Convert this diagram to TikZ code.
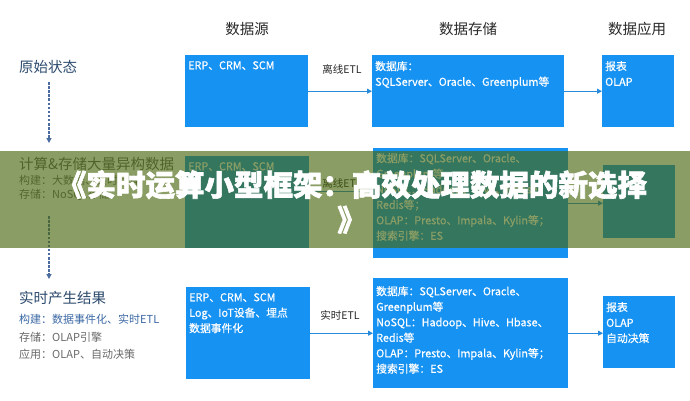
\documentclass[tikz,border=0pt]{standalone}
\usepackage{fontspec}
\setmainfont{Noto Sans CJK SC}
\newfontfamily\cjk{Noto Sans CJK SC}
\newfontfamily\cjkbox[FakeBold=0.6]{Noto Sans CJK SC}
\newfontfamily\cjktitle[BoldFeatures={FakeBold=2}]{Noto Sans CJK SC}
\usetikzlibrary{arrows.meta,calc}
\definecolor{boxblue}{RGB}{22,146,242}
\definecolor{arrblue}{RGB}{40,138,218}
\definecolor{dashblue}{RGB}{75,108,160}
\definecolor{headgrey}{RGB}{40,40,40}
\definecolor{stategrey}{RGB}{45,75,110}
\definecolor{subgrey}{RGB}{105,105,105}
\definecolor{subblue}{RGB}{60,105,165}
\definecolor{bandcol}{RGB}{72,103,13}
\tikzset{
  bx/.style={fill=boxblue, draw=none, inner sep=0pt, anchor=north west},
  bxtext/.style={anchor=north west, inner sep=0pt, text=white, align=left,
    font=\cjkbox\fontsize{10.8}{15.5}\selectfont},
  head/.style={inner sep=0pt, text=headgrey, font=\cjk\fontsize{14.5}{17}\selectfont},
  state/.style={anchor=west, inner sep=0pt, text=stategrey, font=\cjk\fontsize{14.5}{17}\selectfont},
  subtext/.style={anchor=west, inner sep=0pt, text=subgrey, font=\cjk\fontsize{11}{13}\selectfont},
  etl/.style={inner sep=0pt, text=headgrey, font=\cjk\fontsize{10.5}{13}\selectfont},
  arr/.style={draw=arrblue, line width=1.1pt, -{Triangle[length=5pt,width=5pt]}},
  dsh/.style={draw=dashblue, line width=1.1pt, dash pattern=on 2.5pt off 1.6pt,
    -{Triangle[length=5pt,width=5pt]}},
}
\begin{document}
\begin{tikzpicture}[x=1pt,y=-1pt]
\useasboundingbox[fill=white] (0,0) rectangle (690,400);

% headers
\node[head] (h1) at (247,29) {数据源};
\node[head] (h2) at (468,29) {数据存储};
\node[head] (h3) at (637,29) {数据应用};

% ---------- top row ----------
\node[state] (orig) at (19,67) {原始状态};
\node[bx, minimum width=123pt, minimum height=72pt] (src1) at (185,55) {};
\node[bxtext] (src1t) at ([xshift=3pt,yshift=-6pt]src1.north west) {ERP、CRM、SCM};
\node[bx, minimum width=192pt, minimum height=72pt] (st1) at (372,55) {};
\node[bxtext] (st1t) at ([xshift=3pt,yshift=-6pt]st1.north west) {数据库：\\SQLServer、Oracle、Greenplum等};
\node[bx, minimum width=72pt, minimum height=72pt] (ap1) at (602,55) {};
\node[bxtext] (ap1t) at ([xshift=3pt,yshift=-6pt]ap1.north west) {报表\\OLAP};
\node[etl] (etl1) at (342,69) {离线ETL};
\draw[arr] (src1.east) -- (st1.west);
\draw[arr] (st1.east) -- (ap1.west);

\coordinate (d1s) at (49,82);
\coordinate (d1e) at (49,143);
\draw[dsh] (d1s) -- (d1e);

% ---------- middle row (under band) ----------
\node[state, text=headgrey!75] (mid) at (19,164) {计算\&存储大量异构数据};
\node[subtext] (mid1) at (19,180) {构建：大数据、实时计算};
\node[subtext] (mid2) at (19,195) {存储：NoSQL存储};
\node[bx, minimum width=124pt, minimum height=92pt] (src2) at (185,156) {};
\node[bxtext] (src2t) at ([xshift=3pt,yshift=-6pt]src2.north west) {ERP、CRM、SCM};
\node[bx, minimum width=195pt, minimum height=110pt] (st2) at (373,148) {};
\node[bxtext] (st2t) at ([xshift=3pt,yshift=-5pt]st2.north west) {数据库：SQLServer、Oracle、\\Greenplum等\\NoSQL：Hadoop、Hive、Hbase、\\Redis等；\\OLAP：Presto、Impala、Kylin等；\\搜索引擎：ES};
\node[bx, minimum width=72pt, minimum height=73pt] (ap2) at (603,165) {};
\node[etl] (etl2) at (342,183) {离线ETL};
\draw[arr] ([yshift=11pt]src2.east) -- ([yshift=11pt]src2.east -| st2.west);
\draw[arr] (st2.east) -- (st2.east -| ap2.west);
\coordinate (d2s) at (49,216);
\coordinate (d2e) at (49,279);
\draw[dsh] (d2s) -- (d2e);

% ---------- bottom row ----------
\node[state] (res) at (19,298) {实时产生结果};
\node[subtext, text=subblue] (res1) at (19,319) {构建：数据事件化、实时ETL};
\node[subtext] (res2) at (19,337) {存储：OLAP引擎};
\node[subtext] (res3) at (19,354) {应用：OLAP、自动决策};
\node[bx, minimum width=124pt, minimum height=92pt] (src3) at (186,287) {};
\node[bxtext] (src3t) at ([xshift=3pt,yshift=-6pt]src3.north west) {ERP、CRM、SCM\\Log、IoT设备、埋点\\数据事件化};
\node[bx, minimum width=195pt, minimum height=110pt] (st3) at (373,278) {};
\node[bxtext] (st3t) at ([xshift=3pt,yshift=-8pt]st3.north west) {数据库：SQLServer、Oracle、\\Greenplum等\\NoSQL：Hadoop、Hive、Hbase、\\Redis等\\OLAP：Presto、Impala、Kylin等；\\搜索引擎：ES};
\node[bx, minimum width=72pt, minimum height=72pt] (ap3) at (603,296) {};
\node[bxtext] (ap3t) at ([xshift=3pt,yshift=-6pt]ap3.north west) {报表\\OLAP\\自动决策};
\node[etl] (etl3) at (340,315) {实时ETL};
\draw[arr] (src3.east) -- (src3.east -| st3.west);
\draw[arr] (st3.east) -- (st3.east -| ap3.west);

% ---------- overlay band and title ----------
\fill[bandcol, fill opacity=0.64] (0,151) rectangle (690,248);
\node[inner sep=0pt, text=white, align=center,
  font=\cjktitle\bfseries\fontsize{29.5}{35}\selectfont] (title) at (352,202)
  {《实时运算小型框架：高效处理数据的新选择\\》};
\end{tikzpicture}
\end{document}
